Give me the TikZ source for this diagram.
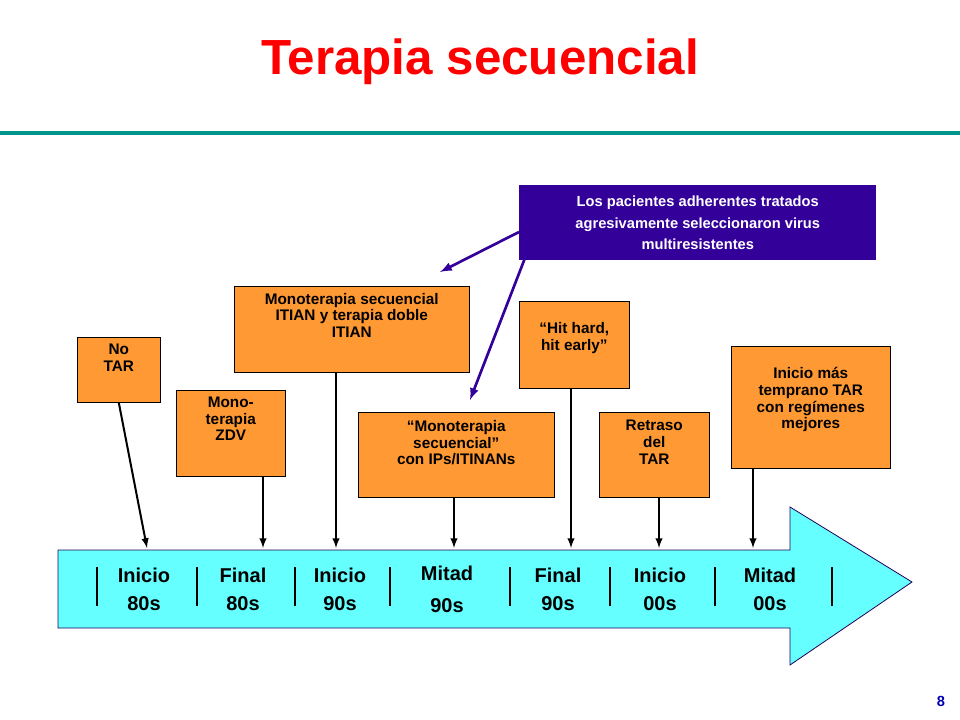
\documentclass[tikz,border=0pt]{standalone}
\usepackage{fontspec}
\setmainfont{Liberation Sans}
\usetikzlibrary{positioning}
\definecolor{boxorange}{RGB}{255,153,51}
\definecolor{lineteal}{RGB}{0,150,140}
\definecolor{boxpurple}{RGB}{51,0,153}
\definecolor{bodycyan}{RGB}{102,255,255}
\tikzset{
  stagebox/.style={draw=black,fill=boxorange,font=\bfseries\fontsize{11.5}{12.5}\selectfont,align=center,inner sep=0pt},
  eralabel/.style={font=\bfseries\fontsize{15}{21}\selectfont,align=center},
  down/.style={->,>=latex,line width=1.5pt},
  hint/.style={->,>=latex,line width=2pt,draw=boxpurple}
}
\begin{document}
\begin{tikzpicture}[x=0.75pt,y=-0.75pt]
\useasboundingbox (0,0) rectangle (960,720);
% title and rule
\node (title) at (480,62) {\color{red}\bfseries\fontsize{37}{40}\selectfont Terapia secuencial};
\draw[lineteal,line width=3.5pt] (0,133) -- (960,133);
% time arrow
\draw[fill=bodycyan,draw=boxpurple!60!black,line width=0.6pt] (58,550) -- (790,550) -- (790,507) -- (912,582) -- (790,665) -- (790,628) -- (58,628) -- cycle;
\foreach \x in {97,197,295,390,510,610,715,832}
  \draw[line width=2pt] (\x,567) -- (\x,606);
\node[eralabel] (e1) at (144,589) {Inicio\\80s};
\node[eralabel] (e2) at (243,589) {Final\\80s};
\node[eralabel] (e3) at (340,589) {Inicio\\90s};
\node[eralabel] (e4) at (447,589) {Mitad\\[3pt]90s};
\node[eralabel] (e5) at (558,589) {Final\\90s};
\node[eralabel] (e6) at (660,589) {Inicio\\00s};
\node[eralabel] (e7) at (770,589) {Mitad\\00s};
\coordinate (t1) at (147,548);
\coordinate (t2) at (263,548);
\coordinate (t3) at (336,548);
\coordinate (t4) at (454,548);
\coordinate (t5) at (571,548);
\coordinate (t6) at (659,548);
\coordinate (t7) at (753,548);
% stage boxes
\node[stagebox,minimum width=83*0.75pt,minimum height=65*0.75pt,anchor=north west] (b1) at (77,337) {};
\node[anchor=north,stagebox,draw=none,fill=none] at ([yshift=-5pt]b1.north) {No\\TAR};
\node[stagebox,minimum width=109*0.75pt,minimum height=86*0.75pt,anchor=north west] (b2) at (176,390) {};
\node[anchor=north,stagebox,draw=none,fill=none] at ([yshift=-5pt]b2.north) {Mono-\\terapia\\ZDV};
\node[stagebox,minimum width=235*0.75pt,minimum height=86*0.75pt,anchor=north west] (b3) at (234,286) {};
\node[anchor=north,stagebox,draw=none,fill=none] at ([yshift=-5pt]b3.north) {Monoterapia secuencial\\ITIAN y terapia doble\\ITIAN};
\node[stagebox,minimum width=196*0.75pt,minimum height=85*0.75pt,anchor=north west] (b4) at (358,412) {};
\node[anchor=north,stagebox,draw=none,fill=none] at ([yshift=-6pt]b4.north) {“Monoterapia\\secuencial”\\con IPs/ITINANs};
\node[stagebox,minimum width=110*0.75pt,minimum height=87*0.75pt,anchor=north west] (b5) at (519,301) {};
\node[anchor=north,stagebox,draw=none,fill=none] at ([yshift=-16pt]b5.north) {“Hit hard,\\hit early”};
\node[stagebox,minimum width=110*0.75pt,minimum height=85*0.75pt,anchor=north west] (b6) at (599,412) {};
\node[anchor=north,stagebox,draw=none,fill=none] at ([yshift=-6pt]b6.north) {Retraso\\del\\TAR};
\node[stagebox,minimum width=159*0.75pt,minimum height=122*0.75pt,anchor=north west] (b7) at (731,346) {};
\node[anchor=north,stagebox,draw=none,fill=none] at ([yshift=-16pt]b7.north) {Inicio más\\temprano TAR\\con regímenes\\mejores};
\draw[down] (b1.south) -- (t1);
\draw[down] (b2.south -| t2) -- (t2);
\draw[down] (b3.south -| t3) -- (t3);
\draw[down] (b4.south -| t4) -- (t4);
\draw[down] (b5.south -| t5) -- (t5);
\draw[down] (b6.south -| t6) -- (t6);
\draw[down] (b7.south -| t7) -- (t7);
% note
\node[fill=boxpurple,text=white,font=\bfseries\fontsize{11}{16}\selectfont,align=center,minimum width=357*0.75pt,minimum height=75*0.75pt,anchor=north west,inner sep=0pt] (note) at (519,185) {Los pacientes adherentes tratados\\agresivamente seleccionaron virus\\multiresistentes};
\coordinate (n1) at (519,232);
\coordinate (n2) at (525,258);
\draw[hint] (n1) -- (440,272);
\draw[hint] (n2) -- (470,400);
\node[text=blue!70!black,font=\bfseries\fontsize{11}{12}\selectfont] (page) at (941,701) {8};
\end{tikzpicture}
\end{document}
